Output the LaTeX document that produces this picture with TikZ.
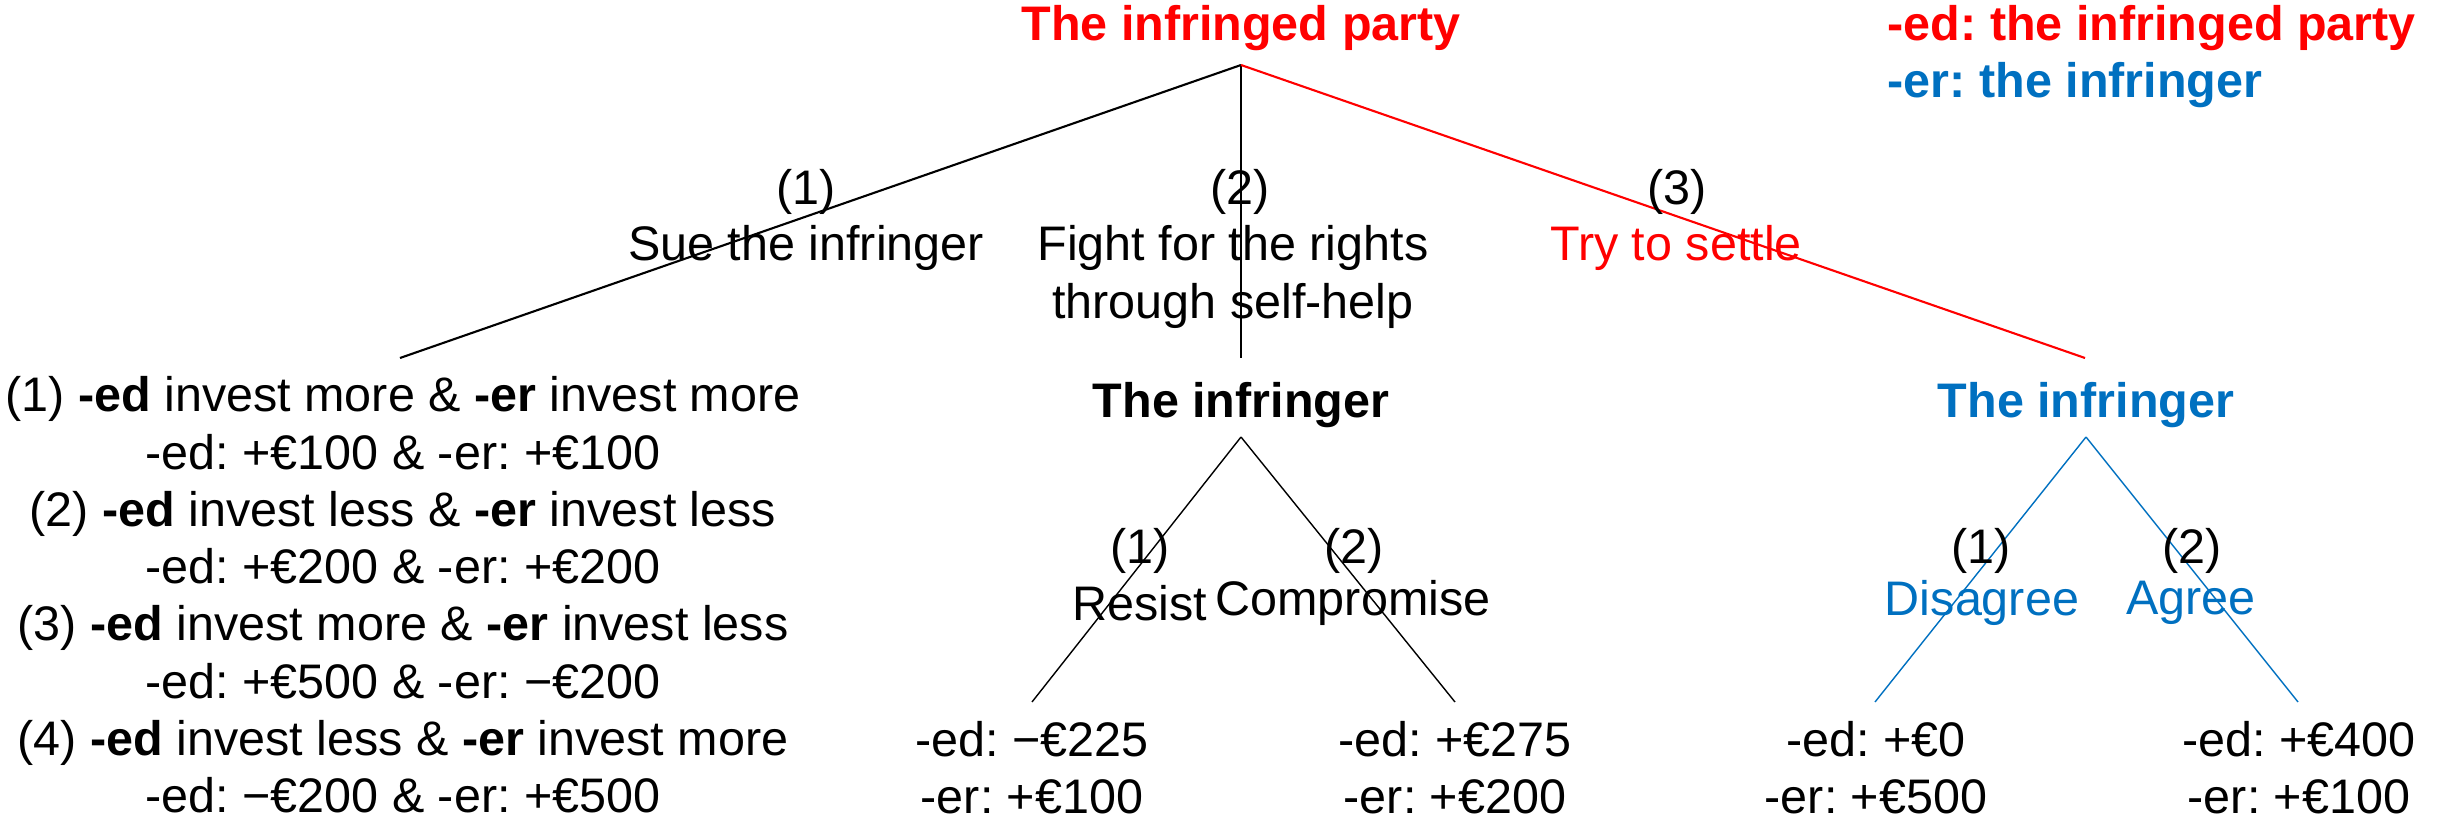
\documentclass[tikz,border=0pt]{standalone}
\usepackage{fontspec}
\setmainfont{Liberation Sans}
\usetikzlibrary{positioning}
\definecolor{edred}{HTML}{FF0000}
\definecolor{erblue}{HTML}{0070C0}
\frenchspacing

\begin{document}
\begin{tikzpicture}[
  txt/.style={inner sep=0pt, align=center, font=\fontsize{13.8}{16.3}\selectfont},
  player/.style={txt, font=\fontsize{13.8}{16.3}\selectfont\bfseries},
  edge/.style={line width=0.6pt},
  thinedge/.style={line width=0.4pt}
]
  \useasboundingbox (0,0) rectangle (24.41,8.19);

  % first mover
  \node[player, text=edred] (root) at (12.41,7.91) {The infringed party};
  \coordinate (rtop) at (12.41,7.54);
  \coordinate (sue)  at (4.00,4.61);
  \coordinate (self) at (12.41,4.61);
  \coordinate (sett) at (20.85,4.61);

  % legend
  \node[player, text=edred, anchor=west]  (leged) at (18.87,7.91) {-ed: the infringed party};
  \node[player, text=erblue, anchor=west] (leger) at (18.87,7.34) {-er: the infringer};

  \draw[edge] (rtop) -- (sue);
  \draw[thinedge] (rtop) -- (self);
  \draw[edge, edred] (rtop) -- (sett);

  \node[txt] (n1) at (8.06,6.27) {(1)};
  \node[txt] (a1) at (8.06,5.71) {Sue the infringer};
  \node[txt] (n2) at (12.40,6.27) {(2)};
  \node[txt] (a2) at (12.33,5.42) {Fight for the rights\\through self-help};
  \node[txt] (n3) at (16.77,6.27) {(3)};
  \node[txt, text=edred] (a3) at (16.76,5.71) {Try to settle};

  % outcomes of suing
  \node[txt] (suepay) at (4.03,2.24) {%
    (1) \textbf{-ed} invest more \& \textbf{-er} invest more\\
    -ed: +€100 \& -er: +€100\\
    (2) \textbf{-ed} invest less \& \textbf{-er} invest less\\
    -ed: +€200 \& -er: +€200\\
    (3) \textbf{-ed} invest more \& \textbf{-er} invest less\\
    -ed: +€500 \& -er: −€200\\
    (4) \textbf{-ed} invest less \& \textbf{-er} invest more\\
    -ed: −€200 \& -er: +€500};

  % self-help subtree
  \node[player] (inf1) at (12.41,4.14) {The infringer};
  \coordinate (itop1) at (12.41,3.82);
  \coordinate (res)   at (10.32,1.17);
  \coordinate (com)   at (14.55,1.17);
  \draw[thinedge] (itop1) -- (res);
  \draw[thinedge] (itop1) -- (com);

  \node[txt] (m1) at (11.40,2.68) {(1)};
  \node[txt] (b1) at (11.40,2.16) {Resist};
  \node[txt] (m2) at (13.54,2.68) {(2)};
  \node[txt] (b2) at (13.53,2.16) {Compromise};

  \node[txt] (respay) at (10.32,0.51) {-ed: −€225\\-er: +€100};
  \node[txt] (compay) at (14.55,0.51) {-ed: +€275\\-er: +€200};

  % settlement subtree
  \node[player, text=erblue] (inf2) at (20.86,4.14) {The infringer};
  \coordinate (itop2) at (20.86,3.82);
  \coordinate (dis)   at (18.75,1.17);
  \coordinate (agr)   at (22.98,1.17);
  \draw[thinedge, erblue] (itop2) -- (dis);
  \draw[thinedge, erblue] (itop2) -- (agr);

  \node[txt] (k1) at (19.81,2.68) {(1)};
  \node[txt, text=erblue] (c1) at (19.82,2.16) {Disagree};
  \node[txt] (k2) at (21.92,2.68) {(2)};
  \node[txt, text=erblue] (c2) at (21.91,2.16) {Agree};

  \node[txt] (dispay) at (18.76,0.51) {-ed: +€0\\-er: +€500};
  \node[txt] (agrpay) at (22.99,0.51) {-ed: +€400\\-er: +€100};
\end{tikzpicture}
\end{document}
